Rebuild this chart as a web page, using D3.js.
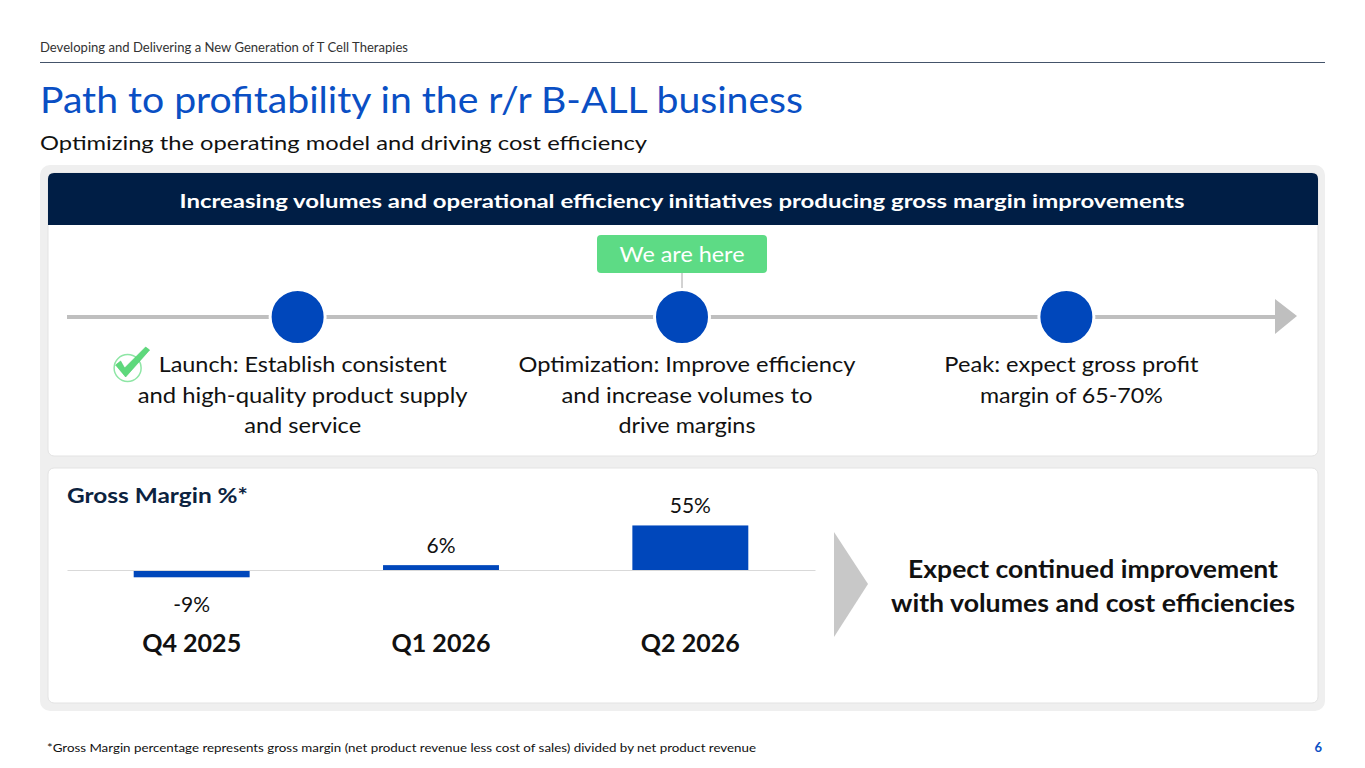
<!DOCTYPE html>
<html>
<head>
<meta charset="utf-8">
<script src="https://cdn.jsdelivr.net/npm/d3@7"></script>
<style>
  html, body { margin: 0; padding: 0; background: #fff; }
  svg { display: block; font-family: Lato, 'Open Sans', sans-serif; }
</style>
</head>
<body>
<svg id="area" width="1365" height="768"></svg>
<script>
// slide texts
const kicker = 'Developing and Delivering a New Generation of T Cell Therapies';
const title = 'Path to profitability in the r/r B-ALL business';
const subtitle = 'Optimizing the operating model and driving cost efficiency';
const banner = 'Increasing volumes and operational efficiency initiatives producing gross margin improvements';
const marker = 'We are here';
const footnote = '*Gross Margin percentage represents gross margin (net product revenue less cost of sales) divided by net product revenue';
const pageNo = '6';

// timeline stages
const stages = ['Launch', 'Optimization', 'Peak'];
const stageLines = [
  ['Launch: Establish consistent', 'and high-quality product supply', 'and service'],
  ['Optimization: Improve efficiency', 'and increase volumes to', 'drive margins'],
  ['Peak: expect gross profit', 'margin of 65-70%'],
];
const currentStage = 'Optimization';
const doneStages = ['Launch'];

// gross margin chart
const chartTitle = 'Gross Margin %*';
const quarters = ['Q4 2025', 'Q1 2026', 'Q2 2026'];
const grossMargin = [-9, 6, 55];
const outlook = ['Expect continued improvement', 'with volumes and cost efficiencies'];

const blue = '#0047bb';
const navy = '#001e45';
const ink = '#111';

const svg = d3.select('#area');

// squeeze a text to the width it has on the slide
const fit = (sel, w) => sel.attr('textLength', w).attr('lengthAdjust', 'spacingAndGlyphs');

// header
svg.append('text')
  .attr('x', 40).attr('y', 52)
  .attr('fill', '#333').style('font-size', '13px')
  .text(kicker)
  .call(fit, 368);

svg.append('line')
  .attr('x1', 40).attr('x2', 1325)
  .attr('y1', 62.5).attr('y2', 62.5)
  .attr('stroke', '#44546a').attr('stroke-width', 1.2);

svg.append('text')
  .attr('x', 40).attr('y', 113)
  .attr('fill', '#0a4fc4').style('font-size', '37px')
  .text(title)
  .call(fit, 763);

svg.append('text')
  .attr('x', 40).attr('y', 150)
  .attr('fill', ink).style('font-size', '20px')
  .text(subtitle)
  .call(fit, 607);

// panels
svg.append('rect')
  .attr('x', 40).attr('y', 165).attr('width', 1285).attr('height', 546)
  .attr('rx', 10).attr('fill', '#efefef');

[[173, 283], [468, 235]].forEach(([y, h]) => {
  svg.append('rect')
    .attr('x', 48).attr('y', y).attr('width', 1270).attr('height', h)
    .attr('rx', 6).attr('fill', '#fff')
    .attr('stroke', '#e3e3e3').attr('stroke-width', 1);
});

// navy banner with rounded top corners
svg.append('path')
  .attr('d', 'M48,225 V179 Q48,173 54,173 H1312 Q1318,173 1318,179 V225 Z')
  .attr('fill', navy);

svg.append('text')
  .attr('x', 682).attr('y', 208)
  .attr('text-anchor', 'middle')
  .attr('fill', '#fff').style('font-size', '19px').style('font-weight', 700)
  .text(banner)
  .call(fit, 1005);

// timeline
const xs = d3.scalePoint()
  .domain(stages)
  .range([67, 1297])
  .padding(0.6);

const lineY = 317;

svg.append('line')
  .attr('x1', 67).attr('x2', 1280)
  .attr('y1', lineY).attr('y2', lineY)
  .attr('stroke', '#bfbfbf').attr('stroke-width', 4);

svg.append('path')
  .attr('d', `M1275,${lineY - 18} L1297,${lineY - 1} L1275,${lineY + 17} Z`)
  .attr('fill', '#bfbfbf');

// "we are here" flag
const cx = xs(currentStage);
svg.append('line')
  .attr('x1', cx).attr('x2', cx)
  .attr('y1', 273).attr('y2', 290)
  .attr('stroke', '#a6a6a6').attr('stroke-width', 1);

svg.append('rect')
  .attr('x', cx - 85).attr('y', 235).attr('width', 170).attr('height', 38)
  .attr('rx', 4).attr('fill', '#5ddb85');

svg.append('text')
  .attr('x', cx).attr('y', 262)
  .attr('text-anchor', 'middle')
  .attr('fill', '#fff').style('font-size', '21px')
  .text(marker)
  .call(fit, 125);

svg.append('g')
  .selectAll('circle')
  .data(stages)
  .join('circle')
  .attr('cx', (d) => xs(d))
  .attr('cy', lineY)
  .attr('r', 27.5)
  .attr('fill', blue)
  .attr('stroke', '#fff')
  .attr('stroke-width', 3);

const lineWidths = [[288, 330, 117], [337, 251, 137], [254, 183]];

const labels = svg.append('g')
  .selectAll('g')
  .data(stages)
  .join('g')
  .attr('transform', (d) => `translate(${xs(d) + 5},0)`);

labels.each(function (d, i) {
  const g = d3.select(this);
  stageLines[i].forEach((t, j) => {
    g.append('text')
      .attr('x', 0)
      .attr('y', 372 + j * 30.5)
      .attr('text-anchor', 'middle')
      .attr('fill', ink)
      .style('font-size', '21px')
      .text(t)
      .call(fit, lineWidths[i][j]);
  });
});

// check mark on finished stages
doneStages.forEach((s) => {
  const g = svg.append('g')
    .attr('transform', `translate(${xs(s) - 170},368)`);
  g.append('circle')
    .attr('r', 13.5)
    .attr('fill', 'none')
    .attr('stroke', '#8ee6a5')
    .attr('stroke-width', 1.5);
  g.append('path')
    .attr('d', 'M-12,-3 L-7,-7 L-3,0 L18,-21 L22,-18 L-2,9 Z')
    .attr('fill', '#5ed97c')
    .attr('stroke', '#4cc96b')
    .attr('stroke-width', 0.6);
});

// gross margin bars
svg.append('text')
  .attr('x', 67).attr('y', 503)
  .attr('fill', '#0c2340')
  .style('font-size', '21px').style('font-weight', 700)
  .text(chartTitle)
  .call(fit, 181);

const x = d3.scaleBand()
  .domain(quarters)
  .range([67, 815])
  .paddingInner(0.535)
  .paddingOuter(0.2675);

const y = d3.scaleLinear()
  .domain([0, 100])
  .range([570, 489]);

const bars = quarters.map((q, i) => ({ q, v: grossMargin[i] }));

svg.append('g')
  .selectAll('rect')
  .data(bars)
  .join('rect')
  .attr('x', (d) => x(d.q))
  .attr('width', x.bandwidth())
  .attr('y', (d) => y(Math.max(0, d.v)))
  .attr('height', (d) => Math.abs(y(d.v) - y(0)))
  .attr('fill', blue);

const xAxis = svg.append('g')
  .attr('transform', `translate(0,${y(0)})`)
  .call(d3.axisBottom(x).tickSize(0).tickSizeOuter(0));

xAxis.select('.domain')
  .attr('stroke', '#d9d9d9')
  .attr('stroke-width', 1.2);

xAxis.selectAll('.tick text')
  .attr('y', 82)
  .attr('dy', 0)
  .attr('fill', ink)
  .style('font-family', 'Lato, sans-serif')
  .style('font-size', '24px')
  .style('font-weight', 700)
  .call(fit, 99);

svg.append('g')
  .selectAll('text')
  .data(bars)
  .join('text')
  .attr('x', (d) => x(d.q) + x.bandwidth() / 2)
  .attr('y', (d) => (d.v < 0 ? y(d.v) + 35 : y(d.v) - 12))
  .attr('text-anchor', 'middle')
  .attr('fill', ink)
  .style('font-size', '21px')
  .text((d) => `${d.v}%`);

// outlook chevron and text
svg.append('path')
  .attr('d', 'M834,532 L868,584 L834,637 Z')
  .attr('fill', '#c8c8c8');

const outlookWidths = [370, 404];
outlook.forEach((t, i) => {
  svg.append('text')
    .attr('x', 1093)
    .attr('y', 578 + i * 34)
    .attr('text-anchor', 'middle')
    .attr('fill', ink)
    .style('font-size', '24px')
    .style('font-weight', 700)
    .text(t)
    .call(fit, outlookWidths[i]);
});

// footer
svg.append('text')
  .attr('x', 47).attr('y', 752)
  .attr('fill', ink).style('font-size', '12px')
  .text(footnote)
  .call(fit, 709);

svg.append('text')
  .attr('x', 1322).attr('y', 752)
  .attr('text-anchor', 'end')
  .attr('fill', '#0a4fc4')
  .style('font-size', '13px').style('font-weight', 700)
  .text(pageNo);
</script>
</body>
</html>
